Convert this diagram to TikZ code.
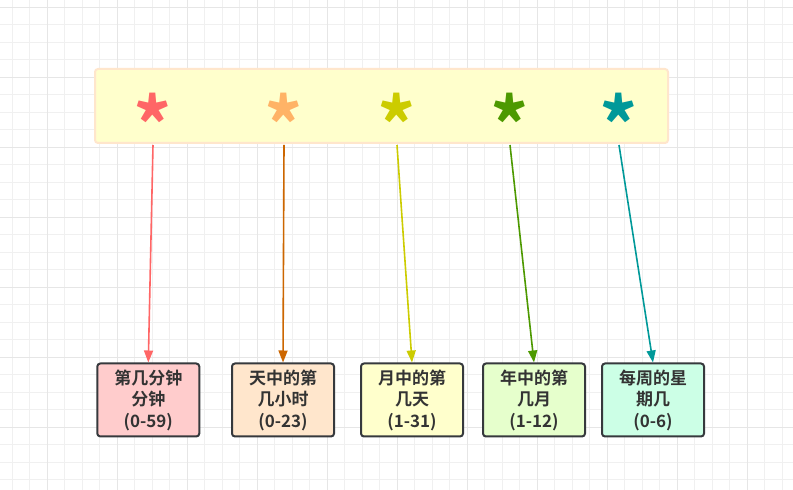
\documentclass[tikz,border=0pt]{standalone}
\usepackage{fontspec}
\setmainfont{Noto Sans CJK SC}[BoldFont={* Bold}]
\usetikzlibrary{arrows.meta,calc,positioning}
\definecolor{redc}{HTML}{FF6666}
\definecolor{orangec}{HTML}{FFB366}
\definecolor{orangedk}{HTML}{CC6600}
\definecolor{yellowc}{HTML}{CCCC00}
\definecolor{greenc}{HTML}{4D9900}
\definecolor{tealc}{HTML}{009999}
\definecolor{gridc}{HTML}{F0F0F0}
\definecolor{gridmaj}{HTML}{E6E6E6}
\definecolor{boxline}{HTML}{36393D}
\definecolor{topline}{HTML}{FFE6CC}
\definecolor{fillred}{HTML}{FFCCCC}
\definecolor{fillorange}{HTML}{FFE6CC}
\definecolor{fillyellow}{HTML}{FFFFCC}
\definecolor{filllime}{HTML}{E6FFCC}
\definecolor{fillmint}{HTML}{CCFFE6}
\tikzset{
  field/.style={draw=boxline,line width=2pt,rounded corners=3pt,minimum width=102pt,minimum height=73pt,
    align=center,text=black!80,font=\fontsize{17}{21.5}\selectfont\bfseries,inner sep=0pt},
  star/.style={font=\fontsize{76}{76}\selectfont\bfseries},
  link/.style={line width=1.6pt,-{Triangle[width=9pt,length=12pt]}}
}
\begin{document}
\begin{tikzpicture}[x=1pt,y=1pt,line join=round]
\useasboundingbox (0,0) rectangle (793,490);
\fill[white] (0,0) rectangle (793,490);
% grid
\foreach \k in {0,...,44}{\draw[gridc,line width=1pt] ({12.3+17.5*\k},0) -- ++(0,490);}
\foreach \k in {0,...,27}{\draw[gridc,line width=1pt] (0,{482.7-17.5*\k}) -- ++(793,0);}
\foreach \k in {2,6,...,42}{\draw[gridmaj,line width=1pt] ({12.3+17.5*\k},0) -- ++(0,490);}
\foreach \k in {0,4,...,24}{\draw[gridmaj,line width=1pt] (0,{482.7-17.5*\k}) -- ++(793,0);}
% top box
\node[draw=topline,fill=fillyellow,line width=2pt,rounded corners=3pt,minimum width=573pt,minimum height=74pt] (cron) at (381.5,384) {};
\foreach \i/\x/\c in {1/153/redc,2/284/orangec,3/397/yellowc,4/510/greenc,5/619/tealc}{
  \node[star,text=\c] (s\i) at (\x,366) {*};
  \coordinate (a\i) at (\x,345);
}
% fields
\node[field,fill=fillred] (b1) at (148.3,90) {第几分钟\\分钟\\(0-59)};
\node[field,fill=fillorange] (b2) at (283,90) {天中的第\\几小时\\(0-23)};
\node[field,fill=fillyellow] (b3) at (412,90) {月中的第\\几天\\(1-31)};
\node[field,fill=filllime] (b4) at (534,90) {年中的第\\几月\\(1-12)};
\node[field,fill=fillmint] (b5) at (653,90) {每周的星\\期几\\(0-6)};
\foreach \i/\c in {1/redc,2/orangedk,3/yellowc,4/greenc,5/tealc}{\draw[link,\c] (a\i) -- (b\i.north);}
\end{tikzpicture}
\end{document}
